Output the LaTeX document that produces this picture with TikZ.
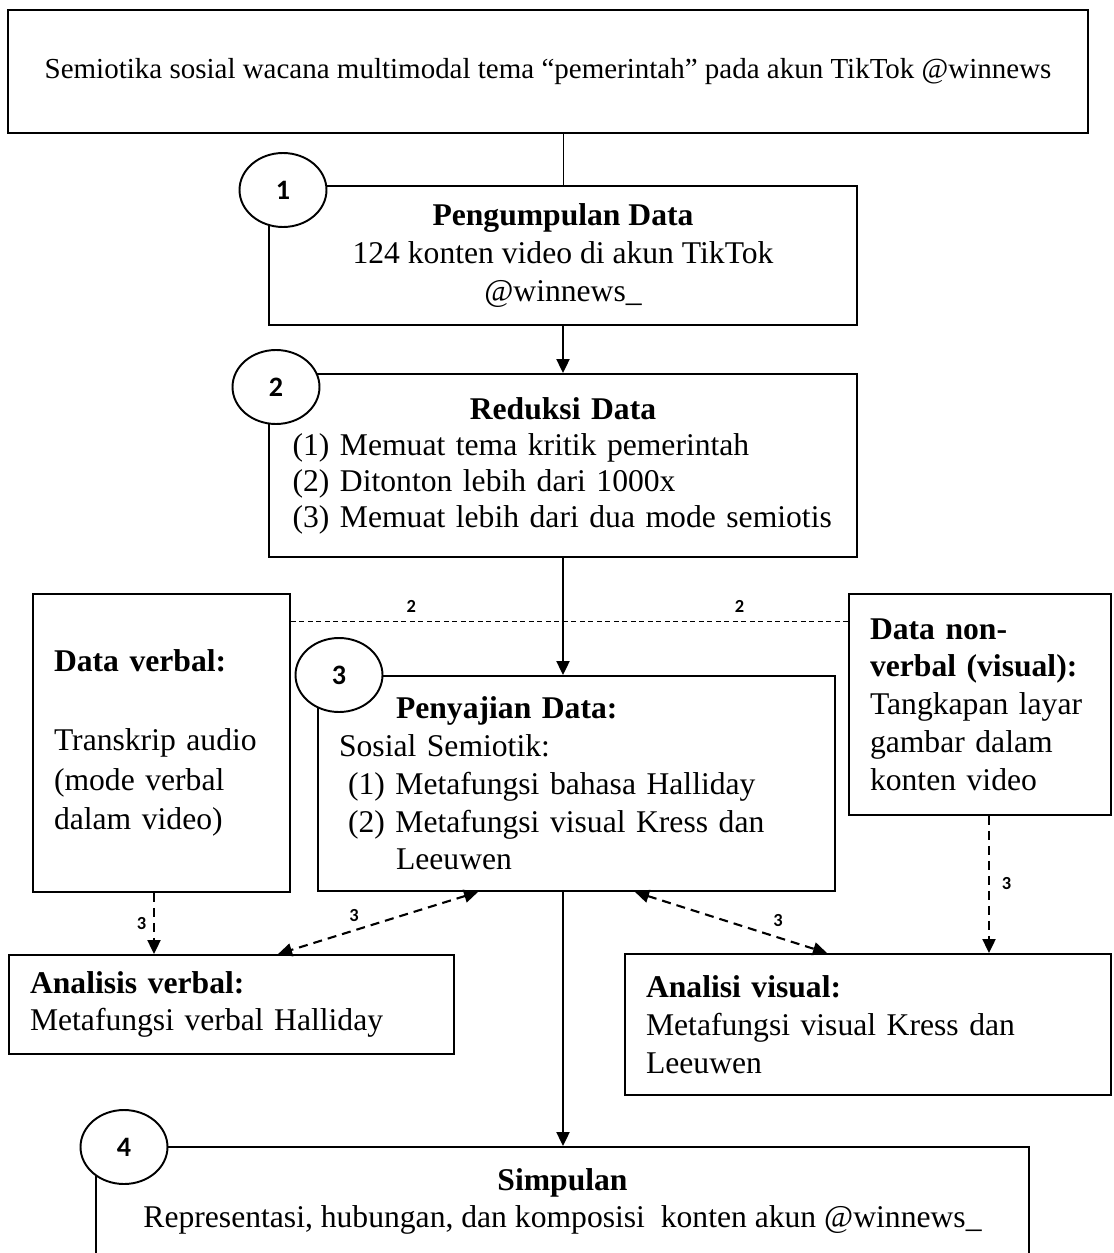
\documentclass[tikz,border=0pt]{standalone}
\usepackage{fontspec}
\setmainfont{Liberation Serif}
\newfontfamily\numfont{Carlito}
\usetikzlibrary{arrows.meta, shapes.geometric, positioning}

\begin{document}
\begin{tikzpicture}[
            x=0.02cm,
            y=-0.02cm,
            auto,
            semithick,
            font=\fontsize{18}{21.5}\selectfont
        ]

        \tikzstyle{box}=[
            draw,
            line width=1.1pt,
            rectangle,
            fill=white,
            inner xsep=0.42cm
        ]
        \tikzstyle{num}=[
            draw,
            line width=1.1pt,
            ellipse,
            fill=white,
            minimum width=1.74cm,
            minimum height=1.48cm,
            inner sep=0pt,
            font=\numfont\bfseries\fontsize{16}{16}\selectfont
        ]
        \tikzstyle{tag}=[font=\numfont\bfseries\fontsize{10.5}{10.5}\selectfont, inner sep=1pt]
        \tikzstyle{flow}=[line width=1.2pt, -{Triangle[length=0.28cm, width=0.26cm]}]
        \tikzstyle{link}=[line width=1.2pt, dash pattern=on 0.18cm off 0.12cm, -{Triangle[length=0.28cm, width=0.26cm]}]
        \tikzstyle{guide}=[line width=0.5pt, dash pattern=on 0.1cm off 0.07cm]

        \clip (0,0) rectangle (1113,1253);

        \node[box, line width=0.8pt, minimum width=21.6cm, minimum height=2.46cm, font=\fontsize{16.5}{20}\selectfont] (tema) at (548,71.5) {Semiotika sosial wacana multimodal tema “pemerintah” pada akun TikTok @winnews};
        \node[box, minimum width=11.76cm, minimum height=2.78cm, align=center] (kumpul) at (563,255.5) {\textbf{Pengumpulan Data}\\124 konten video di akun TikTok\\@winnews\_};
        \node[box, inner xsep=0.47cm, minimum width=11.76cm, minimum height=3.66cm, text width=10.82cm, align=left, font=\fontsize{18}{20.5}\selectfont] (reduksi) at (563,465.5) {\hyphenpenalty=10000\centering\textbf{Reduksi Data}\par\raggedright (1) Memuat tema kritik pemerintah\\(2) Ditonton lebih dari 1000x\\(3) Memuat lebih dari dua mode semiotis};
        \node[box, minimum width=5.14cm, minimum height=5.96cm, text width=4.3cm, align=left, font=\fontsize{18}{22.5}\selectfont] (verbal) at (161.5,743) {\textbf{Data verbal:}\\[22.5pt]Transkrip audio\\(mode verbal\\dalam video)};
        \node[box, minimum width=10.34cm, minimum height=4.3cm, text width=9.5cm, align=left] (saji) at (576.5,783.5) {\hspace*{1.14cm}\textbf{Penyajian Data:}\\Sosial Semiotik:\\\hspace*{0.18cm}(1) Metafungsi bahasa Halliday\\\hspace*{0.18cm}(2) Metafungsi visual Kress dan\\\hspace*{1.14cm}Leeuwen};
        \node[box, minimum width=5.24cm, minimum height=4.42cm, text width=4.4cm, align=left] (nonverbal) at (980,704.5) {\textbf{Data non-}\\\textbf{verbal (visual):}\\Tangkapan layar\\gambar dalam\\konten video};
        \node[box, minimum width=8.9cm, minimum height=1.98cm, text width=8.06cm, align=left] (averb) at (231.5,1004.5) {\textbf{Analisis verbal:}\\Metafungsi verbal Halliday};
        \node[box, minimum width=9.72cm, minimum height=2.82cm, text width=8.88cm, align=left] (avis) at (868,1024.5) {\textbf{Analisi visual:}\\Metafungsi visual Kress dan\\Leeuwen};
        \node[box, minimum width=18.66cm, minimum height=2.8cm, align=center] (simpul) at (562.5,1217) {\textbf{Simpulan}\\Representasi, hubungan, dan komposisi~ konten akun @winnews\_\\\mbox{}};

        \node[num] (n1) at (283,190) {1};
        \node[num] (n2) at (276,387) {2};
        \node[num] (n3) at (339,675) {3};
        \node[num] (n4) at (124,1147) {4};

        \draw[line width=0.5pt] (kumpul.north |- tema.south) -- (kumpul.north);
        \draw[flow] (kumpul) -- (reduksi);
        \draw[flow] (reduksi.south) -- (reduksi.south |- saji.north);
        \draw[flow] (reduksi.south |- saji.south) -- (reduksi.south |- simpul.north);

        \draw[guide] ([yshift=-0.56cm]verbal.north east) -- ([yshift=-0.56cm]verbal.north east -| nonverbal.west)
            node[tag, pos=0.216, above=0.13cm] {2}
            node[tag, pos=0.805, above=0.13cm] {2};

        \draw[link] ([xshift=-0.15cm]verbal.south) -- ([xshift=-0.15cm]verbal.south |- averb.north) node[tag, midway, left=0.1cm] {3};
        \draw[link, {Triangle[length=0.28cm, width=0.26cm]}-{Triangle[length=0.28cm, width=0.26cm]}] ([xshift=3.22cm]saji.south west) -- ([xshift=5.4cm]averb.north west) node[tag, pos=0.62, above=0.12cm] {3};
        \draw[link, {Triangle[length=0.28cm, width=0.26cm]}-{Triangle[length=0.28cm, width=0.26cm]}] ([xshift=6.36cm]saji.south west) -- ([xshift=4.06cm]avis.north west) node[tag, pos=0.745, above=0.17cm] {3};
        \draw[link] ([xshift=0.18cm]nonverbal.south) -- ([xshift=0.18cm]nonverbal.south |- avis.north) node[tag, pos=0.49, right=0.2cm] {3};

    \end{tikzpicture}
\end{document}
